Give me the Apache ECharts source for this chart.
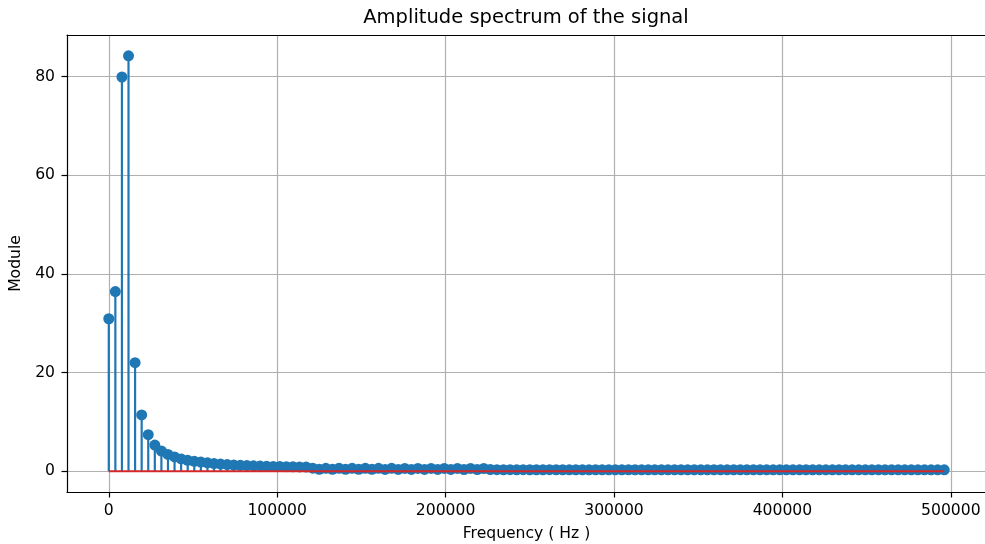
<!DOCTYPE html>
<html>
<head>
<meta charset="utf-8">
<script src="https://cdn.jsdelivr.net/npm/echarts@6/dist/echarts.min.js"></script>
<style>
html,body{margin:0;padding:0;background:#fff;width:100%;height:100%;overflow:hidden;}
#chart{width:100%;height:100%;}
</style>
</head>
<body>
<div id="chart"></div>
<script>
// Frequency bin spacing (Hz) — sample rate 1 MHz, 256-point FFT, first half kept
const binWidth = 3906.25;
const xTicks = [0, 100000, 200000, 300000, 400000, 500000];
const yTicks = [0, 20, 40, 60, 80];
// Amplitude (module) per bin
const amplitudes = [
  30.9, 36.4, 79.9, 84.2, 22.0, 11.4, 7.4, 5.3, 4.1, 3.4,
  2.9, 2.5, 2.2, 2.0, 1.85, 1.7, 1.55, 1.45, 1.35, 1.25,
  1.2, 1.15, 1.1, 1.05, 1.0, 0.98, 0.95, 0.93, 0.9, 0.88,
  0.85, 0.62, 0.4, 0.6, 0.4, 0.6, 0.38, 0.6, 0.38, 0.58,
  0.38, 0.58, 0.37, 0.58, 0.37, 0.57, 0.37, 0.57, 0.36, 0.57,
  0.36, 0.56, 0.36, 0.56, 0.35, 0.56, 0.35, 0.55, 0.35, 0.32,
  0.3, 0.31, 0.29, 0.31, 0.3, 0.3, 0.29, 0.31, 0.3, 0.3,
  0.29, 0.3, 0.3, 0.29, 0.3, 0.3, 0.29, 0.3, 0.29, 0.3,
  0.3, 0.29, 0.3, 0.29, 0.3, 0.29, 0.29, 0.3, 0.29, 0.3,
  0.29, 0.29, 0.3, 0.29, 0.29, 0.3, 0.29, 0.29, 0.3, 0.29,
  0.29, 0.29, 0.3, 0.29, 0.29, 0.29, 0.3, 0.29, 0.29, 0.29,
  0.29, 0.3, 0.29, 0.29, 0.29, 0.29, 0.29, 0.3, 0.29, 0.29,
  0.29, 0.29, 0.29, 0.29, 0.29, 0.29, 0.29, 0.29
];
const titleText = 'Amplitude spectrum of the signal';
const xName = 'Frequency ( Hz )';
const yName = 'Module';

const points = amplitudes.map((v, i) => [i * binWidth, v]);
const lastF = (amplitudes.length - 1) * binWidth;
const xMin = -0.05 * lastF, xMax = lastF * 1.05;
const yMax = Math.max(...amplitudes);
const yMin = -0.05 * yMax, yTop = yMax * 1.05;

// plot area extends slightly past the right window edge (as in the reference)
const gridLeft = 67, gridWidth = 919;
const extraPx = 30;
const xMaxExt = xMax + (xMax - xMin) * extraPx / gridWidth;

const font = 'DejaVu Sans';
const fs = 15.6;
const chart = echarts.init(document.getElementById('chart'), null, {renderer: 'canvas'});
chart.setOption({
  animation: false,
  backgroundColor: '#fff',
  title: {
    text: titleText, left: 526, top: 8, textAlign: 'center', padding: 0,
    textStyle: {fontFamily: font, fontSize: 19.5, fontWeight: 'normal', color: '#000'}
  },
  grid: {left: gridLeft, top: 35, width: gridWidth + extraPx, height: 457, show: false,
    containLabel: false, outerBoundsMode: 'none'},
  xAxis: [{
    type: 'value', min: xMin, max: xMaxExt,
    name: xName, nameLocation: 'middle', nameGap: 34,
    nameTextStyle: {fontFamily: font, fontSize: fs, color: '#000', padding: [0, extraPx, 0, 0]},
    axisLine: {show: true, onZero: false, lineStyle: {color: '#000', width: 1.2}},
    axisTick: {show: true, length: 5.5, customValues: xTicks, lineStyle: {color: '#000', width: 1.2}},
    axisLabel: {customValues: xTicks, margin: 11, fontFamily: font, fontSize: fs, color: '#000', formatter: v => String(v)},
    splitLine: {show: true, lineStyle: {color: '#b0b0b0', width: 1.2}}
  }, {
    type: 'value', min: xMin, max: xMaxExt, position: 'top',
    axisLine: {show: true, onZero: false, lineStyle: {color: '#000', width: 1.2}},
    axisTick: {show: false}, axisLabel: {show: false}, splitLine: {show: false}
  }],
  yAxis: {
    type: 'value', min: yMin, max: yTop,
    name: yName, nameLocation: 'middle', nameGap: 38, nameRotate: 90,
    nameTextStyle: {fontFamily: font, fontSize: fs, color: '#000'},
    axisLine: {show: true, onZero: false, lineStyle: {color: '#000', width: 1.2}},
    axisTick: {show: true, length: 5.5, customValues: yTicks, lineStyle: {color: '#000', width: 1.2}},
    axisLabel: {customValues: yTicks, margin: 12, fontFamily: font, fontSize: fs, color: '#000', formatter: v => String(v)},
    splitLine: {show: true, lineStyle: {color: '#b0b0b0', width: 1.2}}
  },
  series: [
    {
      type: 'custom', z: 2, data: points, clip: false,
      renderItem: function (params, api) {
        const top = api.coord([api.value(0), api.value(1)]);
        const base = api.coord([api.value(0), 0]);
        return {type: 'line', shape: {x1: base[0], y1: base[1], x2: top[0], y2: top[1]},
          style: {stroke: '#1f77b4', lineWidth: 2.2}};
      }
    },
    {
      type: 'scatter', z: 3, data: points, symbol: 'circle', symbolSize: 11,
      itemStyle: {color: '#1f77b4', opacity: 1}
    },
    {
      type: 'line', z: 4, data: [[0, 0], [lastF, 0]], showSymbol: false, symbol: 'none',
      lineStyle: {color: '#d62728', width: 2.2}
    }
  ]
});
</script>
</body>
</html>
